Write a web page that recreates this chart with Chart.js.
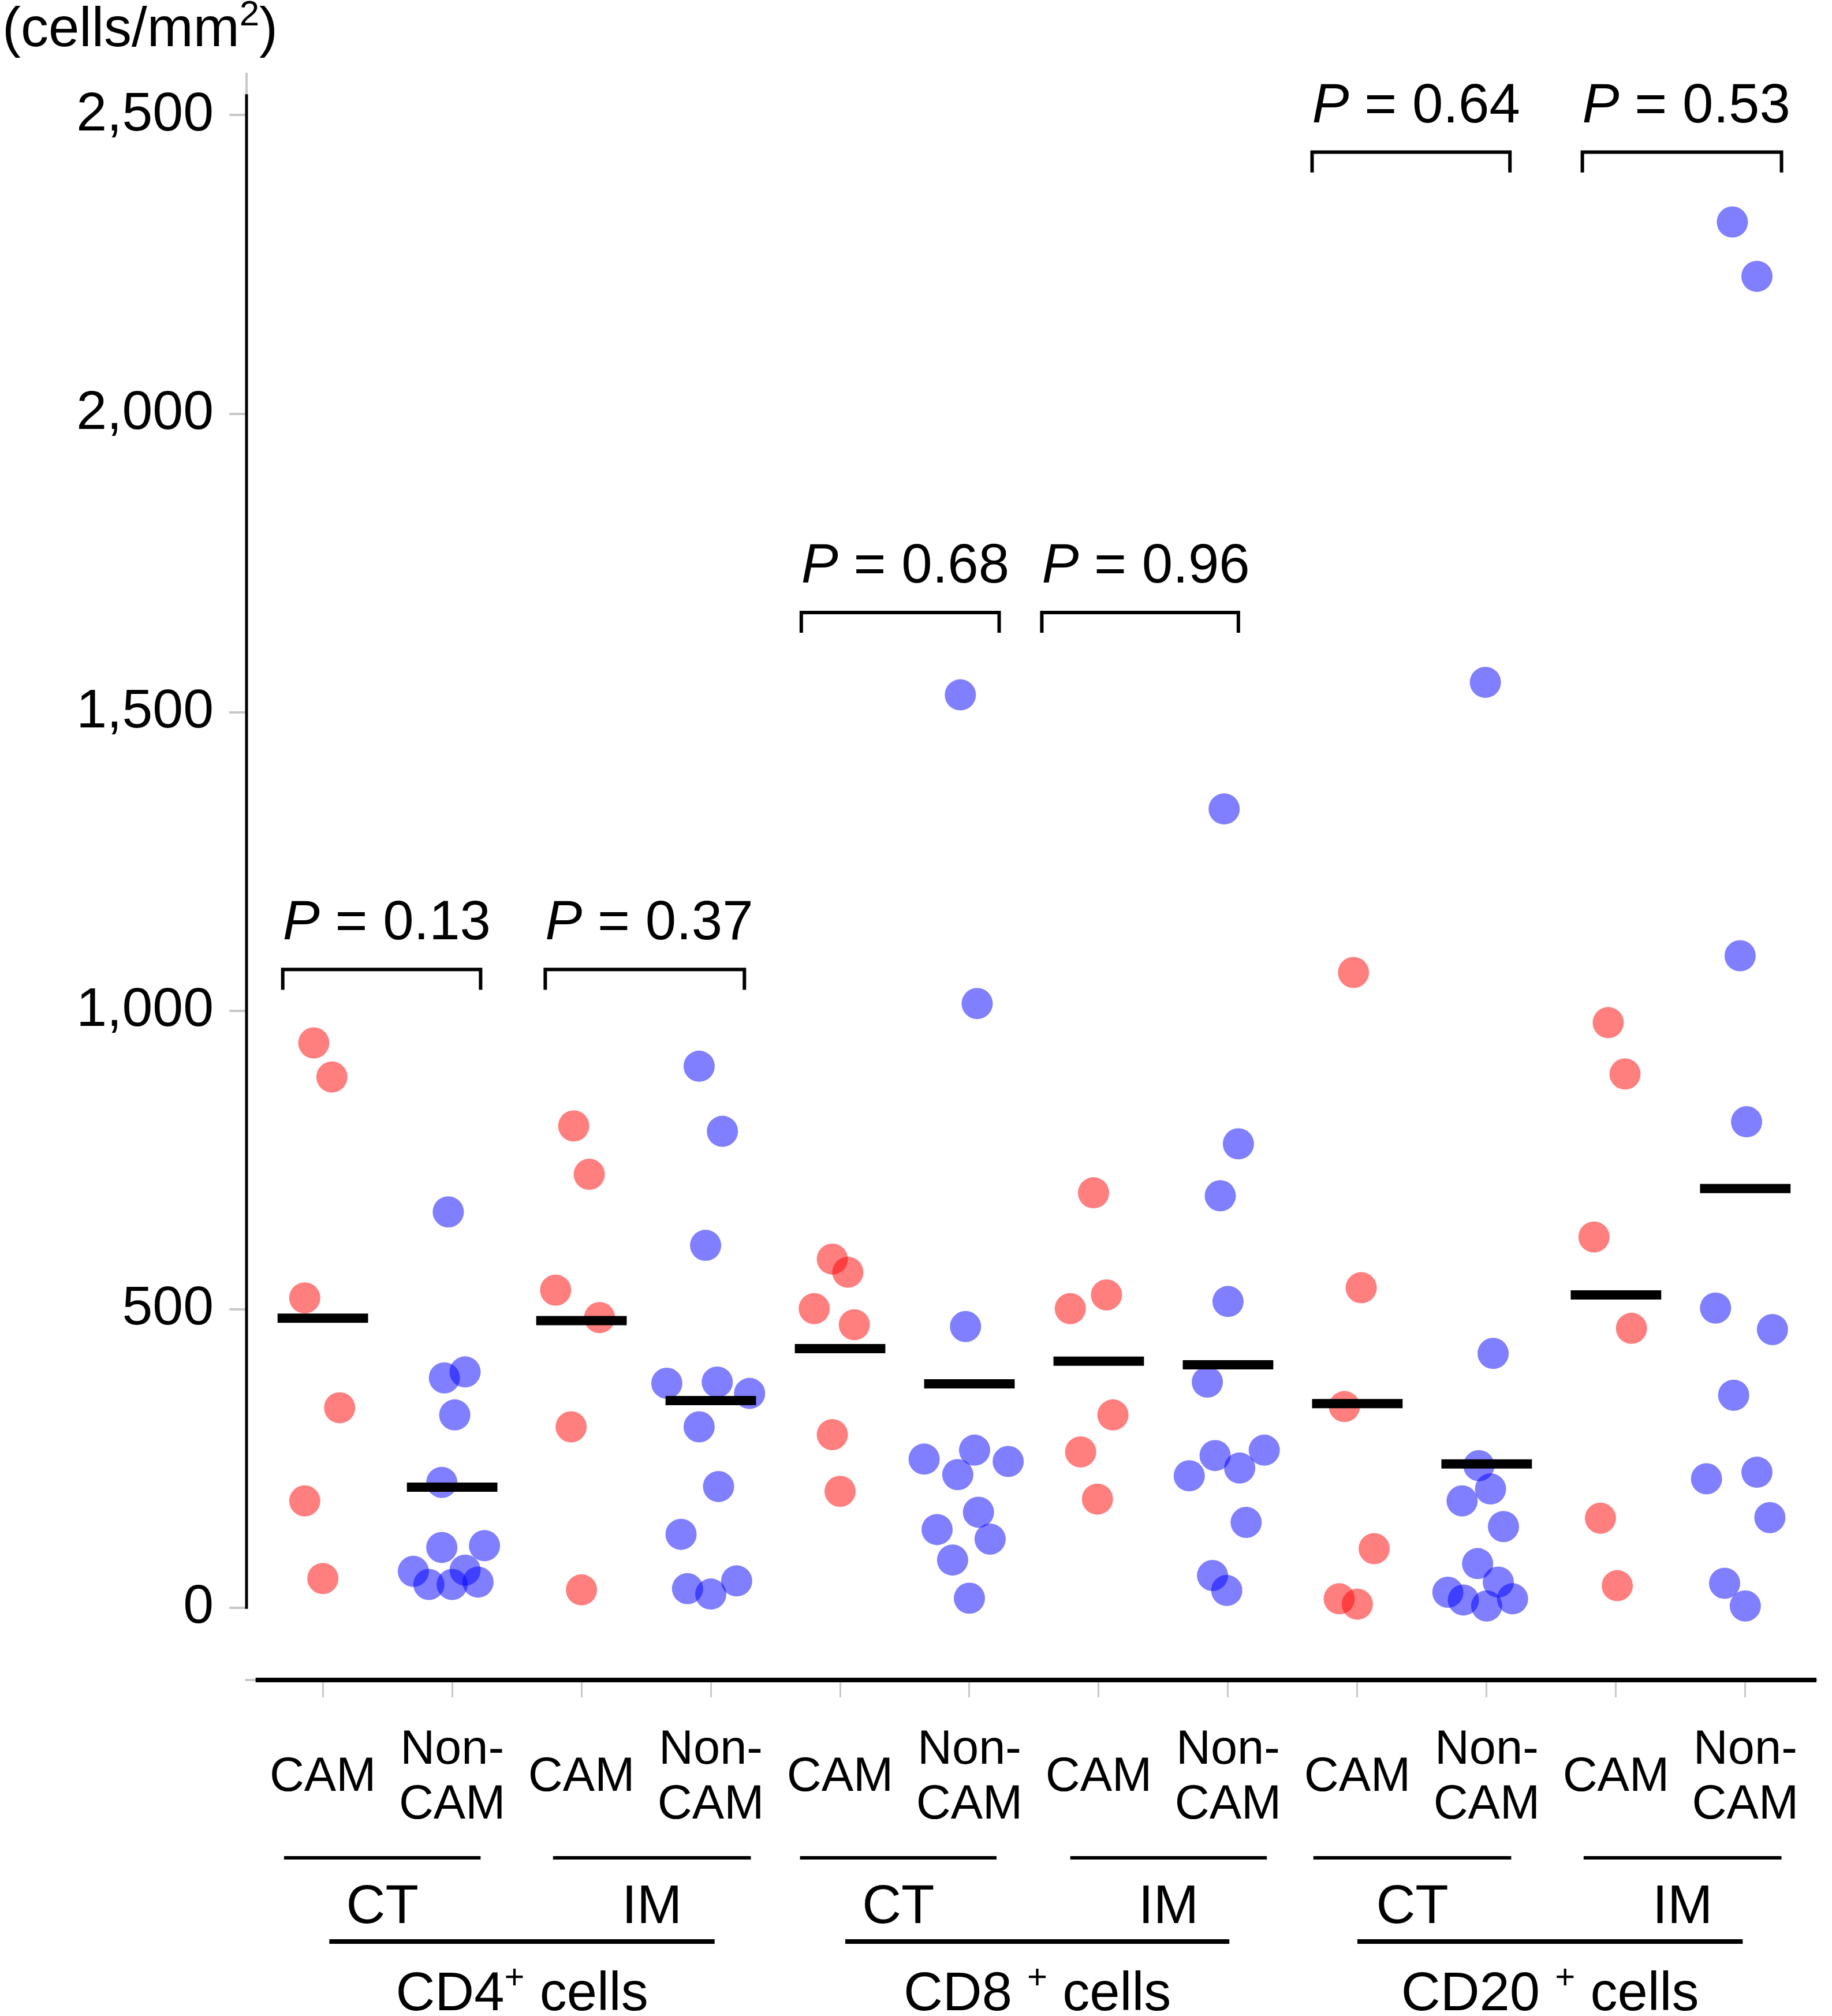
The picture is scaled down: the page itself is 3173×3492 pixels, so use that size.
<!DOCTYPE html>
<html>
<head>
<meta charset="utf-8">
<script src="https://cdn.jsdelivr.net/npm/chart.js@4.4.1/dist/chart.umd.min.js"></script>
<style>
  html, body { margin: 0; padding: 0; background: #fff; overflow: hidden; }
  #wrap { width: 3173px; height: 3492px; }
</style>
</head>
<body>
<div id="wrap"><canvas id="cellchart" width="3173" height="3492"></canvas></div>
<script>
// groups along the x axis (one per tick)
var groupLabels = ['CAM', 'Non-CAM', 'CAM', 'Non-CAM', 'CAM', 'Non-CAM',
                   'CAM', 'Non-CAM', 'CAM', 'Non-CAM', 'CAM', 'Non-CAM'];
var siteLabels = ['CT', 'IM', 'CT', 'IM', 'CT', 'IM'];
var cellTypes = ['CD4', 'CD8 ', 'CD20 '];
var pValues = ['0.13', '0.37', '0.68', '0.96', '0.64', '0.53'];
var yTicks = [0, 500, 1000, 1500, 2000, 2500];

// cells/mm2 per patient, and horizontal jitter inside the group
var cd4CtCam   = [946, 889, 519, 335, 179, 49];
var cd4CtCamX  = [-0.07, 0.07, -0.14, 0.13, -0.14, 0.00];
var cd4CtNon   = [663, 385, 395, 323, 210, 101, 104, 61, 39, 39, 63, 43];
var cd4CtNonX  = [-0.03, -0.06, 0.10, 0.02, -0.08, -0.08, 0.25, -0.30, -0.18, 0.00, 0.10, 0.20];
var cd4ImCam   = [807, 726, 532, 486, 303, 30];
var cd4ImCamX  = [-0.06, 0.06, -0.20, 0.14, -0.08, 0.00];
var cd4ImNon   = [907, 798, 607, 376, 378, 359, 303, 203, 123, 32, 23, 45];
var cd4ImNonX  = [-0.09, 0.09, -0.04, -0.34, 0.05, 0.30, -0.09, 0.06, -0.23, -0.18, 0.00, 0.20];
var cd8CtCam   = [584, 562, 501, 474, 290, 195];
var cd8CtCamX  = [-0.06, 0.06, -0.20, 0.11, -0.06, 0.00];
var cd8CtNon   = [1529, 1012, 471, 249, 264, 245, 223, 160, 131, 115, 80, 16];
var cd8CtNonX  = [-0.07, 0.06, -0.03, -0.35, 0.04, 0.30, -0.09, 0.07, -0.25, 0.16, -0.13, 0.00];
var cd8ImCam   = [695, 501, 524, 323, 261, 182];
var cd8ImCamX  = [-0.04, -0.22, 0.06, 0.11, -0.14, -0.01];
var cd8ImNon   = [1338, 777, 690, 513, 378, 255, 264, 234, 221, 143, 54, 29];
var cd8ImNonX  = [-0.03, 0.08, -0.06, 0.00, -0.16, -0.10, 0.28, 0.09, -0.30, 0.14, -0.12, -0.01];
var cd20CtCam  = [1064, 536, 337, 99, 15, 6];
var cd20CtCamX = [-0.03, 0.03, -0.10, 0.13, -0.14, 0.00];
var cd20CtNon  = [1550, 426, 238, 199, 179, 136, 74, 43, 26, 13, 3, 15];
var cd20CtNonX = [-0.01, 0.05, -0.06, 0.03, -0.19, 0.13, -0.07, 0.09, -0.30, -0.18, 0.00, 0.20];
var cd20ImCam  = [980, 894, 621, 468, 150, 37];
var cd20ImCamX = [-0.06, 0.07, -0.17, 0.12, -0.12, 0.01];
var cd20ImNon  = [2321, 2230, 1092, 814, 502, 466, 356, 216, 227, 151, 41, 3];
var cd20ImNonX = [-0.10, 0.09, -0.04, 0.01, -0.23, 0.21, -0.09, -0.30, 0.09, 0.19, -0.16, 0.00];

// group means (black bars)
var means = [485, 202, 481, 347, 434, 375, 413, 407, 342, 241, 524, 702];

// comparison brackets: x span in group units, height in cells/mm2
var bracketFrom = [-0.31, 1.72, 3.70, 5.56, 7.65, 9.74];
var bracketTo   = [1.22, 3.26, 5.23, 7.08, 9.18, 11.28];
var bracketTop  = [1069, 1069, 1667, 1667, 2438, 2438];
// CT / IM underlines and cell type lines (group units)
var siteFrom = [-0.30, 1.78, 3.69, 5.78, 7.66, 9.75];
var siteTo   = [1.22, 3.31, 5.21, 7.30, 9.19, 11.28];
var typeFrom = [0.05, 4.04, 8.00];
var typeTo   = [3.03, 7.01, 10.98];

var FONT = '"Liberation Sans", Arial, Helvetica, sans-serif';
var RED = 'rgba(255, 0, 0, 0.5)';
var BLUE = 'rgba(0, 0, 255, 0.5)';

var groups = [
  [cd4CtCam, cd4CtCamX], [cd4CtNon, cd4CtNonX], [cd4ImCam, cd4ImCamX], [cd4ImNon, cd4ImNonX],
  [cd8CtCam, cd8CtCamX], [cd8CtNon, cd8CtNonX], [cd8ImCam, cd8ImCamX], [cd8ImNon, cd8ImNonX],
  [cd20CtCam, cd20CtCamX], [cd20CtNon, cd20CtNonX], [cd20ImCam, cd20ImCamX], [cd20ImNon, cd20ImNonX]
];

var datasets = [];

// mean bars on top of the dots
means.forEach(function(m, i) {
  datasets.push({
    data: [{x: i - 0.35, y: m}, {x: i + 0.35, y: m}],
    showLine: true, borderColor: '#000', borderWidth: 16, borderCapStyle: 'butt',
    pointRadius: 0, order: 0
  });
});

// brackets
bracketFrom.forEach(function(x0, i) {
  var top = bracketTop[i], leg = top - 34;
  datasets.push({
    data: [{x: x0, y: leg}, {x: x0, y: top}, {x: bracketTo[i], y: top}, {x: bracketTo[i], y: leg}],
    showLine: true, borderColor: '#000', borderWidth: 6, borderCapStyle: 'butt',
    borderJoinStyle: 'miter', pointRadius: 0, tension: 0, order: 0
  });
});

// dots
groups.forEach(function(g, i) {
  datasets.push({
    data: g[0].map(function(v, k) { return {x: i + g[1][k], y: v}; }),
    backgroundColor: i % 2 === 0 ? RED : BLUE,
    borderWidth: 0, pointRadius: 27, order: 1
  });
});

function drawRich(ctx, parts, x, y, align) {
  // parts: [text, size, italic, raise]
  var total = 0;
  parts.forEach(function(p) {
    ctx.font = (p[2] ? 'italic ' : '') + p[1] + 'px ' + FONT;
    total += ctx.measureText(p[0]).width;
  });
  var cx = align === 'center' ? x - total / 2 : x;
  ctx.textAlign = 'left';
  parts.forEach(function(p) {
    ctx.font = (p[2] ? 'italic ' : '') + p[1] + 'px ' + FONT;
    ctx.fillText(p[0], cx, y - (p[3] || 0));
    cx += ctx.measureText(p[0]).width;
  });
}

var decor = {
  id: 'decor',
  afterDraw: function(chart) {
    var ctx = chart.ctx, xs = chart.scales.x, ys = chart.scales.y, a = chart.chartArea;
    ctx.save();
    ctx.fillStyle = '#000';
    ctx.textBaseline = 'alphabetic';

    // y axis: black from 0 up, grey stub above
    ctx.lineCap = 'butt';
    ctx.strokeStyle = '#c8c8c8';
    ctx.lineWidth = 4;
    ctx.beginPath();
    ctx.moveTo(a.left, a.top);
    ctx.lineTo(a.left, ys.getPixelForValue(2535));
    ctx.stroke();
    ctx.strokeStyle = '#000';
    ctx.lineWidth = 5;
    ctx.beginPath();
    ctx.moveTo(a.left, ys.getPixelForValue(2535));
    ctx.lineTo(a.left, ys.getPixelForValue(0) + 2);
    ctx.stroke();

    // x axis black line
    ctx.lineWidth = 8;
    ctx.beginPath();
    ctx.moveTo(xs.getPixelForValue(-0.52), a.bottom);
    ctx.lineTo(a.right, a.bottom);
    ctx.stroke();

    // y axis title
    drawRich(ctx, [['(cells/mm', 96], ['2', 62, false, 36], [')', 96]], 4, 80, 'left');

    // P values
    pValues.forEach(function(p, i) {
      var x = xs.getPixelForValue(bracketFrom[i]);
      var y = ys.getPixelForValue(bracketTop[i]) - 52;
      drawRich(ctx, [['P', 96, true], [' = ' + p, 96]], x, y, 'left');
    });

    // group tick labels
    ctx.textAlign = 'center';
    groupLabels.forEach(function(lab, i) {
      var x = xs.getPixelForValue(i);
      ctx.font = '83px ' + FONT;
      if (lab === 'CAM') {
        ctx.fillText('CAM', x, a.bottom + 192);
      } else {
        ctx.fillText('Non-', x, a.bottom + 145);
        ctx.fillText('CAM', x, a.bottom + 240);
      }
    });

    // CT / IM rows
    ctx.lineWidth = 6;
    siteLabels.forEach(function(s, i) {
      var x0 = xs.getPixelForValue(siteFrom[i]), x1 = xs.getPixelForValue(siteTo[i]);
      ctx.beginPath();
      ctx.moveTo(x0, a.bottom + 308);
      ctx.lineTo(x1, a.bottom + 308);
      ctx.stroke();
      ctx.font = '94px ' + FONT;
      ctx.textAlign = 'center';
      ctx.fillText(s, (x0 + x1) / 2, a.bottom + 421);
    });

    // cell type rows
    ctx.lineWidth = 8;
    cellTypes.forEach(function(c, i) {
      var x0 = xs.getPixelForValue(typeFrom[i]), x1 = xs.getPixelForValue(typeTo[i]);
      ctx.beginPath();
      ctx.moveTo(x0, a.bottom + 453);
      ctx.lineTo(x1, a.bottom + 453);
      ctx.stroke();
      drawRich(ctx, [[c, 94], ['+', 60, false, 38], [' cells', 94]], (x0 + x1) / 2, a.bottom + 572, 'center');
    });
    ctx.restore();
  }
};

var cty = document.getElementById('cellchart').getContext('2d');
var cellchart = new Chart(cty, {
  type: 'scatter',
  data: { datasets: datasets },
  plugins: [decor],
  options: {
    responsive: false,
    animation: false,
    devicePixelRatio: 1,
    events: [],
    layout: { padding: { top: 126, right: 27, left: 0, bottom: 0 } },
    plugins: { legend: { display: false }, tooltip: { enabled: false } },
    scales: {
      x: {
        type: 'linear', min: -0.59, max: 11.55,
        afterBuildTicks: function(s) { s.ticks = groupLabels.map(function(_, i) { return {value: i}; }); },
        afterFit: function(s) { s.height = 582; },
        ticks: { display: false },
        grid: { drawOnChartArea: false, drawTicks: true, tickLength: 30, color: '#c8c8c8', lineWidth: 3 },
        border: { color: '#c8c8c8', width: 4 }
      },
      y: {
        type: 'linear', min: -121, max: 2571,
        afterBuildTicks: function(s) { s.ticks = yTicks.map(function(v) { return {value: v}; }); },
        afterFit: function(s) { s.width = 427; },
        ticks: {
          color: '#000', padding: 27,
          font: { family: FONT, size: 95 },
          callback: function(v) { return String(v).replace(/\B(?=(\d{3})+(?!\d))/g, ','); }
        },
        grid: { drawOnChartArea: false, drawTicks: true, tickLength: 30, color: '#c8c8c8', lineWidth: 4 },
        border: { display: false }
      }
    }
  }
});
</script>
</body>
</html>
